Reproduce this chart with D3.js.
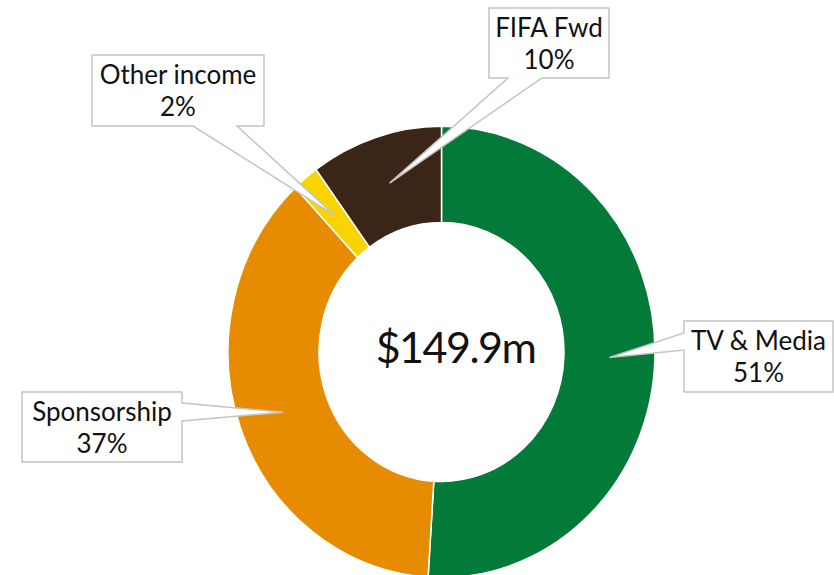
<!DOCTYPE html>
<meta charset="utf-8">
<style>
  body { margin: 0; background: #fff; }
  text { font-family: Lato, "Open Sans", sans-serif; fill: #111; }
  .callout { fill: #fff; stroke: #c4c4c4; stroke-width: 1.5; }
</style>
<body>
<script src="https://cdn.jsdelivr.net/npm/d3@7"></script>
<script>
// data
var categories = ["TV & Media", "Sponsorship", "Other income", "FIFA Fwd"];
var shares = [51, 37, 2, 10];
var pctLabels = ["51%", "37%", "2%", "10%"];
var colors = ["#037a37", "#e78c00", "#f9d400", "#3a2516"];
var totalLabel = "$149.9m";

var width = 834, height = 575;
var cx = 441.5, cy = 352, stretch = 1.057;
var outerR = 213.5, innerR = 122.5;

// callout boxes: x0,y0,x1,y1, side of pointer, base start/end along that side
var boxes = [
  { x0: 684, y0: 321, x1: 833, y1: 392, side: "left",   b0: 333, b1: 350 },
  { x0: 22,  y0: 392, x1: 182, y1: 462, side: "right",  b0: 403, b1: 421 },
  { x0: 92,  y0: 55,  x1: 264, y1: 126, side: "bottom", b0: 193, b1: 237 },
  { x0: 489, y0: 8,   x1: 609, y1: 78,  side: "bottom", b0: 508, b1: 542 }
];

var svg = d3.select("body").append("svg")
    .attr("width", width)
    .attr("height", height);

var pie = d3.pie().sort(null).value(function(d) { return d; });
var arcs = pie(shares);

var arc = d3.arc().innerRadius(innerR).outerRadius(outerR);

var g = svg.append("g")
    .attr("transform", "translate(" + cx + "," + cy + ") scale(1," + stretch + ")");

g.selectAll("path")
  .data(arcs)
  .enter().append("path")
    .attr("d", arc)
    .attr("fill", function(d, i) { return colors[i]; })
    .attr("stroke", "#fff")
    .attr("stroke-width", 1.5);

svg.append("text")
    .attr("x", 455.5)
    .attr("y", 363)
    .attr("text-anchor", "middle")
    .style("font-size", "43px")
    .style("letter-spacing", "-1.5px")
    .text(totalLabel);

// callouts
arcs.forEach(function(d, i) {
  var c = arc.centroid(d);
  var tip = [cx + c[0], cy + c[1] * stretch];
  var b = boxes[i];
  var pts;
  if (b.side === "left") {
    pts = [[b.x0, b.y0], [b.x1, b.y0], [b.x1, b.y1], [b.x0, b.y1], [b.x0, b.b1], tip, [b.x0, b.b0]];
  } else if (b.side === "right") {
    pts = [[b.x0, b.y0], [b.x1, b.y0], [b.x1, b.b0], tip, [b.x1, b.b1], [b.x1, b.y1], [b.x0, b.y1]];
  } else {
    pts = [[b.x0, b.y0], [b.x1, b.y0], [b.x1, b.y1], [b.b1, b.y1], tip, [b.b0, b.y1], [b.x0, b.y1]];
  }
  svg.append("path")
      .attr("class", "callout")
      .attr("d", d3.line()(pts) + "Z");

  var tx = (b.x0 + b.x1) / 2;
  var t = svg.append("text")
      .attr("text-anchor", "middle")
      .style("font-size", "26px");
  t.append("tspan").attr("x", tx).attr("y", b.y0 + 29).text(categories[i]);
  t.append("tspan").attr("x", tx).attr("y", b.y0 + 61).text(pctLabels[i]);
});
</script>
